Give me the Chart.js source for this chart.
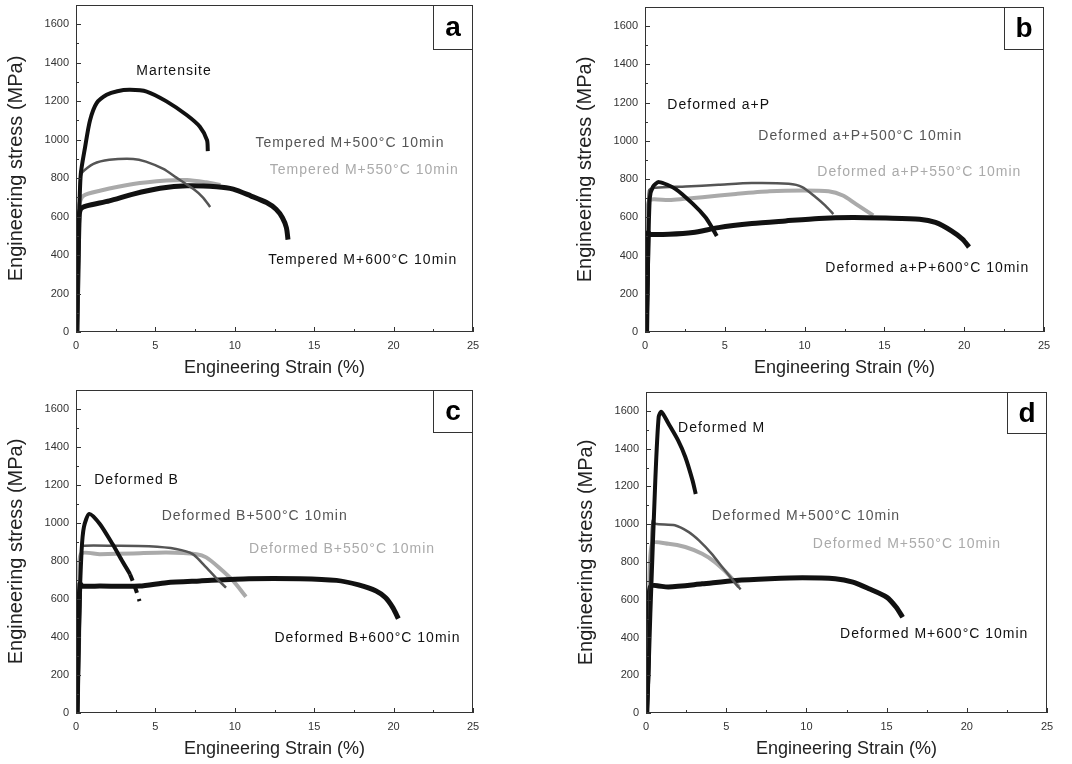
<!DOCTYPE html>
<html>
<head>
<meta charset="utf-8">
<script src="https://cdn.jsdelivr.net/npm/chart.js@4.4.1/dist/chart.umd.min.js"></script>
<style>
  body { margin: 0; background: #fff; }
  #wrap { position: relative; width: 1072px; height: 764px; }
  .panel { position: absolute; width: 536px; height: 382px; }
</style>
</head>
<body>
<div id="wrap">
  <div class="panel" style="left:0;top:0"><canvas id="chartA" width="536" height="382"></canvas></div>
  <div class="panel" style="left:536px;top:0"><canvas id="chartB" width="536" height="382"></canvas></div>
  <div class="panel" style="left:0;top:382px"><canvas id="chartC" width="536" height="382"></canvas></div>
  <div class="panel" style="left:536px;top:382px"><canvas id="chartD" width="536" height="382"></canvas></div>
</div>
<script>
// axis ticks
const strainTicks = [0, 5, 10, 15, 20, 25];
const stressTicks = [0, 200, 400, 600, 800, 1000, 1200, 1400, 1600];

// panel a - [strain %, stress MPa]
const martensite = [[0.05,0],[0.12,300],[0.2,600],[0.3,820],[0.57,960],[0.88,1100],[1.3,1190],[1.93,1233],[2.6,1252],[3.4,1259],[4.45,1250],[5.7,1199],[6.97,1128],[7.8,1067],[8.25,997],[8.3,940]];
const temperedM500 = [[0.1,0],[0.18,400],[0.25,780],[0.4,830],[1.1,874],[2.1,895],[3.6,900],[4.4,886],[5.5,848],[6.3,804],[7.4,743],[8.0,699],[8.45,650]];
const temperedM550 = [[0.1,0],[0.16,450],[0.2,660],[0.46,708],[1.5,734],[3.6,769],[5.7,787],[7.0,790],[8.2,778],[9.1,765]];
const temperedM600 = [[0.05,0],[0.12,300],[0.2,600],[0.3,640],[0.67,656],[2.1,682],[3.6,717],[5.3,747],[7.0,760],[8.85,755],[9.9,743],[11.0,708],[12.0,673],[12.6,638],[13.0,594],[13.25,542],[13.35,480]];

// panel b
const deformedAP = [[0.1,0],[0.2,400],[0.3,700],[0.5,760],[0.88,784],[1.9,749],[3.0,670],[3.8,599],[4.2,546],[4.5,502]];
const deformedAP500 = [[0.1,0],[0.2,500],[0.25,740],[0.67,754],[2.55,761],[4.6,770],[6.7,779],[9.0,775],[9.85,758],[10.7,705],[11.3,661],[11.8,617]];
const deformedAP550 = [[0.1,0],[0.2,500],[0.25,687],[1.5,690],[3.6,705],[5.7,722],[7.8,736],[9.85,740],[11.5,736],[12.4,714],[13.2,670],[14.3,610]];
const deformedAP600 = [[0.1,0],[0.15,300],[0.2,520],[0.3,511],[1.5,511],[3.0,520],[4.6,546],[6.7,567],[8.8,581],[10.9,594],[13.0,599],[15.1,596],[17.2,590],[18.2,573],[19.2,529],[19.9,485],[20.3,444]];

// panel c
const deformedB = [[0.1,0],[0.2,500],[0.35,850],[0.5,980],[0.84,1048],[1.5,995],[2.3,889],[2.9,801],[3.4,730],[3.8,642],[4.0,589]];
const deformedB500 = [[0.1,0],[0.25,600],[0.35,860],[0.42,880],[2.5,880],[4.6,877],[6.3,863],[7.35,836],[8.2,766],[9.0,695],[9.45,660]];
const deformedB550 = [[0.1,0],[0.25,600],[0.3,836],[1.5,836],[3.6,840],[5.7,845],[7.6,836],[8.2,819],[9.0,766],[9.9,695],[10.7,612]];
const deformedB600 = [[0.05,0],[0.15,400],[0.25,680],[0.4,668],[1.5,668],[4.0,668],[5.7,686],[7.8,695],[10.9,707],[14.1,707],[16.4,698],[17.8,674],[18.9,642],[19.5,606],[19.96,553],[20.3,497]];

// panel d
const deformedM = [[0.05,0],[0.15,200],[0.27,525],[0.58,1232],[0.79,1568],[0.96,1595],[1.4,1533],[2.0,1444],[2.45,1356],[2.9,1232],[3.1,1160]];
const deformedM500 = [[0.05,0],[0.2,500],[0.35,950],[0.42,1020],[0.58,1002],[1.8,994],[2.67,958],[3.3,914],[4.1,843],[4.75,773],[5.6,684],[5.9,655]];
const deformedM550 = [[0.05,0],[0.2,500],[0.37,896],[1.4,896],[2.45,879],[3.5,843],[4.3,799],[5.2,728],[5.8,667]];
const deformedM600 = [[0.05,0],[0.15,300],[0.27,667],[1.4,667],[3.5,684],[5.6,702],[7.7,711],[9.75,716],[11.8,711],[12.9,693],[13.9,658],[15.0,614],[15.6,560],[16.0,507]];

// curve labels
const labelsA = ['Martensite', 'Tempered M+500°C 10min', 'Tempered M+550°C 10min', 'Tempered M+600°C 10min'];
const labelsB = ['Deformed a+P', 'Deformed a+P+500°C 10min', 'Deformed a+P+550°C 10min', 'Deformed a+P+600°C 10min'];
const labelsC = ['Deformed B', 'Deformed B+500°C 10min', 'Deformed B+550°C 10min', 'Deformed B+600°C 10min'];
const labelsD = ['Deformed M', 'Deformed M+500°C 10min', 'Deformed M+550°C 10min', 'Deformed M+600°C 10min'];

// where each label starts (strain, stress)
const spotsA = [[3.8,1355],[11.3,982],[12.2,839],[12.1,376]];
const spotsB = [[1.4,1189],[7.1,1022],[10.8,837],[11.3,335]];
const spotsC = [[1.15,1225],[5.4,1034],[10.9,863],[12.5,394]];
const spotsD = [[2.0,1506],[4.1,1043],[10.4,896],[12.1,415]];

const seriesColors = ['#111111', '#555555', '#aaaaaa', '#111111'];
const seriesWidths = [4, 2.5, 4, 5];

const panelDecor = {
    id: 'panelDecor',
    afterDatasetsDraw(chart, args, opts) {
        const ctx = chart.ctx;
        const area = chart.chartArea;
        const xs = chart.scales.x, ys = chart.scales.y;
        ctx.save();
        // frame
        ctx.strokeStyle = '#333';
        ctx.lineWidth = 1;
        ctx.strokeRect(area.left + 0.5, area.top + 0.5, area.width - 1, area.height - 1);
        // inward ticks
        ctx.beginPath();
        for (let v = 0; v <= 25; v += 2.5) {
            const px = Math.round(xs.getPixelForValue(v)) + 0.5;
            const len = v % 5 === 0 ? 5 : 3;
            ctx.moveTo(px, area.bottom);
            ctx.lineTo(px, area.bottom - len);
        }
        for (let v = 0; v <= 1600; v += 100) {
            const py = Math.round(ys.getPixelForValue(v)) + 0.5;
            const len = v % 200 === 0 ? 5 : 3;
            ctx.moveTo(area.left, py);
            ctx.lineTo(area.left + len, py);
        }
        ctx.stroke();
        // curve labels
        ctx.font = '14px "Liberation Sans", Arial, sans-serif';
        ctx.letterSpacing = '1px';
        ctx.textBaseline = 'middle';
        ctx.textAlign = 'left';
        opts.texts.forEach((t, i) => {
            ctx.fillStyle = seriesColors[i];
            ctx.fillText(t, xs.getPixelForValue(opts.spots[i][0]), ys.getPixelForValue(opts.spots[i][1]));
        });
        ctx.letterSpacing = '0px';
        // letter box
        const bw = 40, bh = opts.boxH;
        ctx.fillStyle = '#fff';
        ctx.fillRect(area.right - bw, area.top, bw, bh);
        ctx.strokeRect(area.right - bw + 0.5, area.top + 0.5, bw - 1, bh - 1);
        ctx.fillStyle = '#000';
        ctx.font = 'bold 28px "Liberation Sans", Arial, sans-serif';
        ctx.textAlign = 'center';
        ctx.fillText(opts.letter, area.right - bw / 2, area.top + bh / 2 + 1);
        ctx.restore();
    }
};

function toPoints(arr) {
    return arr.map(p => ({ x: p[0], y: p[1] }));
}

// dashFrom: strain after which the first curve is drawn broken (panel c only)
function makePanel(id, series, texts, spots, letter, pad, boxH, dashFrom) {
    const ctx = document.getElementById(id).getContext('2d');
    return new Chart(ctx, {
        type: 'scatter',
        data: {
            datasets: series.map((s, i) => ({
                data: toPoints(s),
                showLine: true,
                borderColor: seriesColors[i],
                borderWidth: seriesWidths[i],
                pointRadius: 0,
                tension: 0.25,
                order: i === 2 ? 3 : 1,
                segment: {
                    borderDash: (c) => (i === 0 && dashFrom !== undefined && c.p0.parsed.x >= dashFrom) ? [7, 6] : undefined
                }
            }))
        },
        plugins: [panelDecor],
        options: {
            responsive: false,
            devicePixelRatio: 1,
            animation: false,
            layout: { padding: pad },
            plugins: {
                legend: { display: false },
                tooltip: { enabled: false },
                panelDecor: { texts: texts, spots: spots, letter: letter, boxH: boxH }
            },
            scales: {
                x: {
                    type: 'linear',
                    min: 0,
                    max: 25,
                    afterBuildTicks: (scale) => { scale.ticks = strainTicks.map(v => ({ value: v })); },
                    afterFit: (scale) => { scale.height = 50; scale.paddingLeft = 0; scale.paddingRight = 0; },
                    grid: { display: false, drawTicks: false },
                    border: { display: false },
                    ticks: { color: '#333', font: { size: 11, family: 'Liberation Sans' }, padding: 7, callback: (v) => String(v) },
                    title: {
                        display: true,
                        text: 'Engineering Strain (%)',
                        color: '#222',
                        font: { size: 18, family: 'Liberation Sans' },
                        padding: { top: 0, bottom: 3 }
                    }
                },
                y: {
                    min: 0,
                    max: 1700,
                    afterBuildTicks: (scale) => { scale.ticks = stressTicks.map(v => ({ value: v })); },
                    afterFit: (scale) => { scale.width = 76; scale.paddingTop = 0; scale.paddingBottom = 0; },
                    grid: { display: false, drawTicks: false },
                    border: { display: false },
                    ticks: { color: '#333', font: { size: 11, family: 'Liberation Sans' }, padding: 7, callback: (v) => String(v) },
                    title: {
                        display: true,
                        text: 'Engineering stress (MPa)',
                        color: '#222',
                        font: { size: 20, family: 'Liberation Sans' },
                        padding: { top: 4, bottom: 0 }
                    }
                }
            }
        }
    });
}

makePanel('chartA', [martensite, temperedM500, temperedM550, temperedM600], labelsA, spotsA, 'a',
    { left: 0, top: 5, right: 63, bottom: 0 }, 45);
makePanel('chartB', [deformedAP, deformedAP500, deformedAP550, deformedAP600], labelsB, spotsB, 'b',
    { left: 33, top: 7, right: 28, bottom: 0 }, 43);
makePanel('chartC', [deformedB, deformedB500, deformedB550, deformedB600], labelsC, spotsC, 'c',
    { left: 0, top: 8, right: 63, bottom: 1 }, 43, 3.3);
makePanel('chartD', [deformedM, deformedM500, deformedM550, deformedM600], labelsD, spotsD, 'd',
    { left: 34, top: 10, right: 25, bottom: 1 }, 42);
</script>
</body>
</html>
